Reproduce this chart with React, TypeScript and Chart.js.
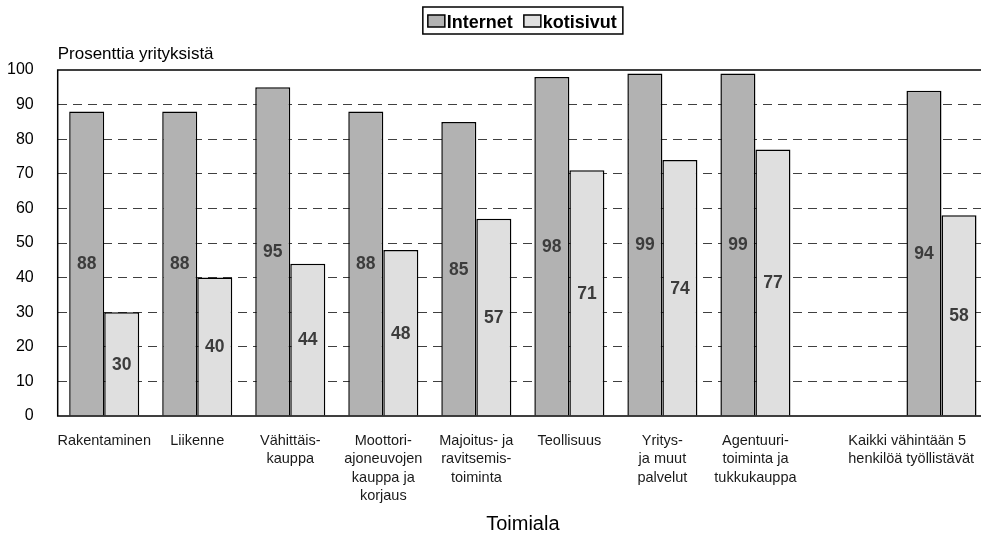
import React, { useEffect, useRef } from "react";
import { Chart, registerables } from "chart.js";

Chart.register(...registerables);

const categories: (string | string[])[] = [
  "Rakentaminen",
  "Liikenne",
  ["Vähittäis-", "kauppa"],
  ["Moottori-", "ajoneuvojen", "kauppa ja", "korjaus"],
  ["Majoitus- ja", "ravitsemis-", "toiminta"],
  "Teollisuus",
  ["Yritys-", "ja muut", "palvelut"],
  ["Agentuuri-", "toiminta ja", "tukkukauppa"],
  "",
  ["Kaikki vähintään 5", "henkilöä työllistävät"],
];
const internetValues: (number | null)[] = [88, 88, 95, 88, 85, 98, 99, 99, null, 94];
const kotisivutValues: (number | null)[] = [30, 40, 44, 48, 57, 71, 74, 77, null, 58];
const seriesNames = ["Internet", "kotisivut"];
const seriesColors = ["#b2b2b2", "#dfdfdf"];
const yAxisTitle = "Prosenttia yrityksistä";
const xAxisTitle = "Toimiala";

const FONT = "'Liberation Sans', Arial, Helvetica, sans-serif";
const VISIBLE_W = 981;
const CANVAS_W = 1000;
const CANVAS_H = 536;

const decorPlugin = {
  id: "decor",
  afterDatasetsDraw(chart: any) {
    const ctx: CanvasRenderingContext2D = chart.ctx;
    const a = chart.chartArea;
    ctx.save();

    // plot frame
    ctx.strokeStyle = "#000";
    ctx.lineWidth = 1.5;
    ctx.strokeRect(a.left, a.top, a.right - a.left, a.bottom - a.top);

    // value labels in the middle of bars
    ctx.font = `bold 17.5px ${FONT}`;
    ctx.fillStyle = "#3c3c3c";
    ctx.textAlign = "center";
    ctx.textBaseline = "middle";
    chart.data.datasets.forEach((ds: any, di: number) => {
      const meta = chart.getDatasetMeta(di);
      meta.data.forEach((el: any, i: number) => {
        const v = ds.data[i];
        if (v == null) return;
        const p = el.getProps(["x", "y", "base"], true);
        ctx.fillText(String(v), p.x, (p.y + p.base) / 2 + 1);
      });
    });

    // y-axis title (horizontal, above the plot)
    ctx.font = `17px ${FONT}`;
    ctx.fillStyle = "#000";
    ctx.textAlign = "left";
    ctx.textBaseline = "alphabetic";
    ctx.fillText(yAxisTitle, a.left, a.top - 11);

    // category labels, kept inside the visible area
    const xs = chart.scales.x;
    ctx.font = `14.5px ${FONT}`;
    ctx.fillStyle = "#1a1a1a";
    categories.forEach((lab, i) => {
      const lines = Array.isArray(lab) ? lab : [lab];
      if (!lines.join("")) return;
      const cx = xs.getPixelForTick(i);
      const w = Math.max(...lines.map((l) => ctx.measureText(l).width));
      let align: CanvasTextAlign = "center";
      let x = cx;
      if (cx + w / 2 > VISIBLE_W - 7) {
        align = "left";
        x = VISIBLE_W - 7 - w;
      }
      ctx.textAlign = align;
      lines.forEach((l, j) => {
        ctx.fillText(l, x, a.bottom + 29 + j * 18.3);
      });
    });

    // legend with frame
    ctx.font = `bold 18px ${FONT}`;
    const mW = 17, mH = 12, gap = 2, itemGap = 11, padL = 5, padR = 6;
    const widths = seriesNames.map((n) => ctx.measureText(n).width);
    const total =
      padL + padR + widths.reduce((s, w) => s + mW + gap + w, 0) + itemGap * (seriesNames.length - 1);
    const cxL = (a.left + a.right) / 2;
    const boxL = cxL - total / 2;
    const boxT = a.top - 63;
    const boxH = 27;
    ctx.lineWidth = 1.5;
    ctx.strokeStyle = "#000";
    ctx.strokeRect(boxL, boxT, total, boxH);
    let x = boxL + padL;
    ctx.textAlign = "left";
    ctx.textBaseline = "alphabetic";
    seriesNames.forEach((n, i) => {
      ctx.fillStyle = seriesColors[i];
      ctx.fillRect(x, boxT + 8, mW, mH);
      ctx.strokeStyle = "#000";
      ctx.lineWidth = 1.5;
      ctx.strokeRect(x, boxT + 8, mW, mH);
      ctx.fillStyle = "#000";
      ctx.fillText(n, x + mW + gap, boxT + 21);
      x += mW + gap + widths[i] + itemGap;
    });

    ctx.restore();
  },
};

export default function App() {
  const ref = useRef<HTMLCanvasElement | null>(null);

  useEffect(() => {
    if (!ref.current) return;
    const chart = new Chart(ref.current, {
      type: "bar",
      data: {
        labels: categories as any,
        datasets: [
          {
            label: seriesNames[0],
            data: internetValues,
            backgroundColor: seriesColors[0],
            borderColor: "#000",
            borderWidth: 1.5,
            categoryPercentage: 0.753,
            barPercentage: 1,
          },
          {
            label: seriesNames[1],
            data: kotisivutValues,
            backgroundColor: seriesColors[1],
            borderColor: "#000",
            borderWidth: 1.5,
            categoryPercentage: 0.753,
            barPercentage: 1,
          },
        ],
      },
      options: {
        responsive: false,
        animation: false,
        devicePixelRatio: 1,
        layout: { padding: { top: 70, left: 7, right: 12, bottom: 0 } },
        plugins: {
          legend: { display: false },
          tooltip: { enabled: false },
          title: { display: false },
        },
        scales: {
          x: {
            grid: { display: false, drawTicks: false },
            border: { display: false },
            ticks: { display: false },
            title: {
              display: true,
              text: xAxisTitle,
              color: "#000",
              font: { family: FONT, size: 20 },
              padding: { top: 96, bottom: 0 },
            },
          },
          y: {
            min: 0,
            max: 100,
            afterFit: (s: any) => {
              s.width -= s.options.ticks.padding;
            },
            grid: {
              drawTicks: false,
              lineWidth: 1,
              color: (c: any) =>
                c.tick && (c.tick.value === 0 || c.tick.value === 100) ? "rgba(0,0,0,0)" : "#404040",
            },
            border: { display: false, dash: [9, 6] },
            ticks: {
              stepSize: 10,
              color: "#000",
              font: { family: FONT, size: 16 },
              padding: 24,
            },
          },
        },
      },
      plugins: [decorPlugin],
    });
    return () => chart.destroy();
  }, []);

  return (
    <div
      style={{
        position: "fixed",
        left: 0,
        top: 0,
        width: VISIBLE_W,
        height: CANVAS_H,
        overflow: "hidden",
        background: "#fff",
      }}
    >
      <canvas ref={ref} width={CANVAS_W} height={CANVAS_H} style={{ display: "block" }} />
    </div>
  );
}
